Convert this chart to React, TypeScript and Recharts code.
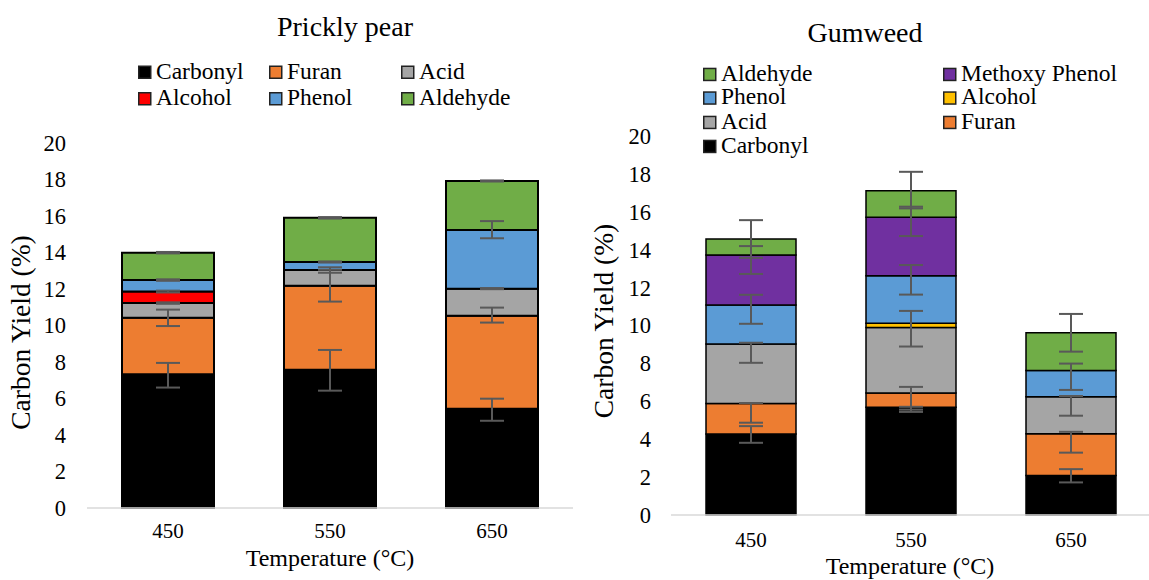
import React from 'react';
import { BarChart, Bar, XAxis, YAxis, ErrorBar } from 'recharts';

const FONT = 'Liberation Serif, Times New Roman, DejaVu Serif, serif';

const temps = ['450', '550', '650'];
const yTicks = [0, 2, 4, 6, 8, 10, 12, 14, 16, 18, 20];

// Prickly pear (carbon yield %, bottom to top)
const ppCarbonyl = [7.33, 7.58, 5.44];
const ppFuran = [3.1, 4.6, 5.1];
const ppAcid = [0.8, 0.86, 1.48];
const ppAlcohol = [0.63, 0, 0];
const ppPhenol = [0.63, 0.44, 3.21];
const ppAldehyde = [1.5, 2.42, 2.69];

// error bars as [minus, plus]
const ppCarbonylErr = [[0.73, 0.62], [1.15, 1.08], [0.66, 0.55]];
const ppFuranErr = [[0.46, 0.44], [0.87, 0.87], [0.38, 0.44]];
const ppAcidErr = [[0.04, 0.04], [0.15, 0.15], [0.03, 0.03]];
const ppAlcoholErr = [[0.05, 0.05], null, null];
const ppPhenolErr = [[0.04, 0.04], [0.03, 0.03], [0.45, 0.49]];
const ppAldehydeErr = [[0.04, 0.04], [0.04, 0.04], [0.03, 0.03]];

// Gumweed
const gwCarbonyl = [4.27, 5.68, 2.09];
const gwFuran = [1.62, 0.76, 2.2];
const gwAcid = [3.13, 3.45, 1.95];
const gwAlcohol = [0, 0.23, 0];
const gwPhenol = [2.06, 2.51, 1.38];
const gwMethoxy = [2.64, 3.08, 0];
const gwAldehyde = [0.84, 1.4, 2.0];

const gwCarbonylErr = [[0.46, 0.42], [0.12, 0.03], [0.37, 0.33]];
const gwFuranErr = [[1.02, 0.02], [1.0, 0.32], [1.0, 0.1]];
const gwAcidErr = [[0.99, 0.07], [1.0, 0.88], [1.0, 0.04]];
const gwAlcoholErr = [null, null, null];
const gwPhenolErr = [[0.99, 0.54], [1.0, 0.56], [1.02, 0.37]];
const gwMethoxyErr = [[1.0, 0.47], [0.99, 0.56], null];
const gwAldehydeErr = [[0.99, 1.0], [0.93, 1.0], [1.0, 0.99]];

const C = {
  carbonyl: '#000000',
  furan: '#ED7D31',
  acid: '#A5A5A5',
  alcoholRed: '#FF0000',
  alcoholYellow: '#FFC000',
  phenol: '#5B9BD5',
  methoxy: '#7030A0',
  aldehyde: '#70AD47',
};

type Series = { key: string; name: string; color: string };

const ppSeries: Series[] = [
  { key: 'carbonyl', name: 'Carbonyl', color: C.carbonyl },
  { key: 'furan', name: 'Furan', color: C.furan },
  { key: 'acid', name: 'Acid', color: C.acid },
  { key: 'alcohol', name: 'Alcohol', color: C.alcoholRed },
  { key: 'phenol', name: 'Phenol', color: C.phenol },
  { key: 'aldehyde', name: 'Aldehyde', color: C.aldehyde },
];

const gwSeries: Series[] = [
  { key: 'carbonyl', name: 'Carbonyl', color: C.carbonyl },
  { key: 'furan', name: 'Furan', color: C.furan },
  { key: 'acid', name: 'Acid', color: C.acid },
  { key: 'alcohol', name: 'Alcohol', color: C.alcoholYellow },
  { key: 'phenol', name: 'Phenol', color: C.phenol },
  { key: 'methoxy', name: 'Methoxy Phenol', color: C.methoxy },
  { key: 'aldehyde', name: 'Aldehyde', color: C.aldehyde },
];

const ppRows = temps.map((t, i) => ({
  temp: t,
  carbonyl: ppCarbonyl[i], carbonylErr: ppCarbonylErr[i],
  furan: ppFuran[i], furanErr: ppFuranErr[i],
  acid: ppAcid[i], acidErr: ppAcidErr[i],
  alcohol: ppAlcohol[i], alcoholErr: ppAlcoholErr[i],
  phenol: ppPhenol[i], phenolErr: ppPhenolErr[i],
  aldehyde: ppAldehyde[i], aldehydeErr: ppAldehydeErr[i],
}));

const gwRows = temps.map((t, i) => ({
  temp: t,
  carbonyl: gwCarbonyl[i], carbonylErr: gwCarbonylErr[i],
  furan: gwFuran[i], furanErr: gwFuranErr[i],
  acid: gwAcid[i], acidErr: gwAcidErr[i],
  alcohol: gwAlcohol[i], alcoholErr: gwAlcoholErr[i],
  phenol: gwPhenol[i], phenolErr: gwPhenolErr[i],
  methoxy: gwMethoxy[i], methoxyErr: gwMethoxyErr[i],
  aldehyde: gwAldehyde[i], aldehydeErr: gwAldehydeErr[i],
}));

const yTickStyle = { fill: '#000', fontSize: 22.5, fontFamily: FONT };
const xTickStyle = { fill: '#000', fontSize: 21, fontFamily: FONT };

function StackChart(props: {
  rows: any[];
  series: Series[];
  width: number;
  margin: any;
  yAxisWidth: number;
  yGap: number;
  xGap: number;
  barSize: number;
  barStroke: number;
}) {
  const { rows, series, width, margin, yAxisWidth, yGap, xGap, barSize, barStroke } = props;
  return (
    <BarChart width={width} height={580} data={rows} margin={margin} barSize={barSize}>
      <XAxis
        dataKey="temp"
        height={40}
        axisLine={{ stroke: '#D9D9D9', strokeWidth: 1.5 }}
        tickLine={false}
        tickSize={0}
        tickMargin={xGap}
        tick={xTickStyle}
      />
      <YAxis
        type="number"
        domain={[0, 20]}
        ticks={yTicks}
        interval={0}
        width={yAxisWidth}
        axisLine={false}
        tickLine={false}
        tickSize={0}
        tickMargin={yGap}
        tick={yTickStyle}
      />
      {series.map((s) => (
        <Bar
          key={s.key}
          dataKey={s.key}
          name={s.name}
          stackId="a"
          fill={s.color}
          stroke="#000"
          strokeWidth={barStroke}
          isAnimationActive={false}
        >
          <ErrorBar dataKey={s.key + 'Err'} width={12} stroke="#595959" strokeWidth={2} direction="y" />
        </Bar>
      ))}
    </BarChart>
  );
}

function Swatch({ x, base, color, label }: { x: number; base: number; color: string; label: string }) {
  return (
    <g>
      <rect x={x + 0.75} y={base - 12.25} width={12} height={12} fill={color} stroke="#222" strokeWidth={1.5} />
      <text x={x + 18} y={base} fontSize={23.5} fontFamily={FONT} fill="#000">
        {label}
      </text>
    </g>
  );
}

export default function App() {
  const ppLegend = [
    { name: 'Carbonyl', color: C.carbonyl, x: 138, base: 78.5 },
    { name: 'Furan', color: C.furan, x: 269, base: 78.5 },
    { name: 'Acid', color: C.acid, x: 401, base: 78.5 },
    { name: 'Alcohol', color: C.alcoholRed, x: 138, base: 105 },
    { name: 'Phenol', color: C.phenol, x: 269, base: 105 },
    { name: 'Aldehyde', color: C.aldehyde, x: 401, base: 105 },
  ];
  const gwLegend = [
    { name: 'Aldehyde', color: C.aldehyde, x: 703, base: 80.7 },
    { name: 'Methoxy Phenol', color: C.methoxy, x: 943, base: 80.7 },
    { name: 'Phenol', color: C.phenol, x: 703, base: 104.3 },
    { name: 'Alcohol', color: C.alcoholYellow, x: 943, base: 104.3 },
    { name: 'Acid', color: C.acid, x: 703, base: 128.7 },
    { name: 'Furan', color: C.furan, x: 943, base: 128.7 },
    { name: 'Carbonyl', color: C.carbonyl, x: 703, base: 152.7 },
  ];

  return (
    <div
      style={{
        position: 'absolute',
        left: 0,
        top: 0,
        width: 1149,
        height: 580,
        overflow: 'hidden',
        background: '#fff',
        fontFamily: FONT,
      }}
    >
      <div style={{ position: 'absolute', left: 0, top: 0 }}>
        <StackChart
          rows={ppRows}
          series={ppSeries}
          width={580}
          margin={{ top: 143, right: 7, left: 0, bottom: 32 }}
          yAxisWidth={87}
          yGap={21}
          xGap={15}
          barSize={92}
          barStroke={2}
        />
      </div>
      <div style={{ position: 'absolute', left: 580, top: 0 }}>
        <StackChart
          rows={gwRows}
          series={gwSeries}
          width={571}
          margin={{ top: 136, right: 0, left: 0, bottom: 25 }}
          yAxisWidth={91}
          yGap={20}
          xGap={17}
          barSize={90}
          barStroke={1.5}
        />
      </div>
      <svg
        width={1149}
        height={580}
        style={{ position: 'absolute', left: 0, top: 0, pointerEvents: 'none' }}
      >
        <text x={345} y={36} fontSize={28} fontFamily={FONT} textAnchor="middle" fill="#000">
          Prickly pear
        </text>
        <text x={865} y={42} fontSize={28} fontFamily={FONT} textAnchor="middle" fill="#000">
          Gumweed
        </text>
        <text x={330} y={566} fontSize={24} fontFamily={FONT} textAnchor="middle" fill="#000">
          Temperature (°C)
        </text>
        <text x={910} y={574} fontSize={24} fontFamily={FONT} textAnchor="middle" fill="#000">
          Temperature (°C)
        </text>
        <text
          x={29.5}
          y={332.5}
          fontSize={27.5}
          fontFamily={FONT}
          textAnchor="middle"
          fill="#000"
          transform="rotate(-90 29.5 332.5)"
        >
          Carbon Yield (%)
        </text>
        <text
          x={613}
          y={321}
          fontSize={27.5}
          fontFamily={FONT}
          textAnchor="middle"
          fill="#000"
          transform="rotate(-90 613 321)"
        >
          Carbon Yield (%)
        </text>
        {ppLegend.map((l) => (
          <Swatch key={'pp' + l.name} x={l.x} base={l.base} color={l.color} label={l.name} />
        ))}
        {gwLegend.map((l) => (
          <Swatch key={'gw' + l.name} x={l.x} base={l.base} color={l.color} label={l.name} />
        ))}
      </svg>
    </div>
  );
}
